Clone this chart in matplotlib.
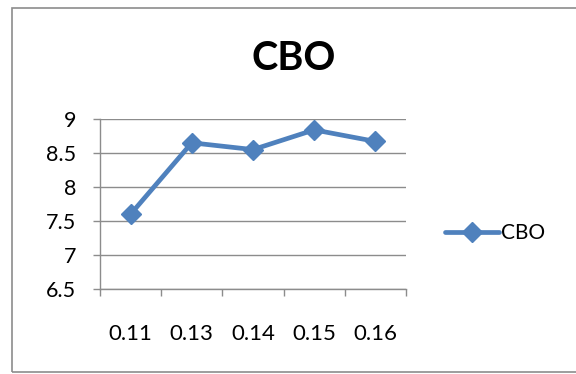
import matplotlib
matplotlib.use("Agg")
import matplotlib.pyplot as plt
from matplotlib.patches import Rectangle

plt.rcParams["font.family"] = ["Lato", "DejaVu Sans"]

categories = ["0.11", "0.13", "0.14", "0.15", "0.16"]
cbo = [7.60, 8.65, 8.55, 8.84, 8.67]
yticks = [6.5, 7, 7.5, 8, 8.5, 9]

BLUE = "#4F81BD"
GRID = "#8C8C8C"

fig = plt.figure(figsize=(5.76, 3.74), dpi=100)
# chart frame
fig.patches.append(Rectangle((12 / 576, 1 - 372 / 374), 0.99, 364 / 374,
                             transform=fig.transFigure, fill=False,
                             edgecolor="#8C8C8C", linewidth=1.2))

ax = fig.add_axes([100 / 576, 1 - 289 / 374, 306 / 576, 170 / 374])
x = list(range(len(categories)))
ax.plot(x, cbo, color=BLUE, linewidth=3.4, marker="D", markersize=10,
        label="CBO", solid_capstyle="round")

ax.set_xlim(-0.5, len(categories) - 0.5)
ax.set_ylim(6.5, 9)
ax.set_yticks(yticks)
ax.set_yticklabels(["6.5", "7", "7.5", "8", "8.5", "9"])
ax.set_xticks(x)
ax.set_xticklabels(categories)
ax.set_xticks([i - 0.5 for i in range(len(categories) + 1)], minor=True)
ax.tick_params(axis="x", which="major", length=0, pad=25, labelsize=16)
ax.tick_params(axis="x", which="minor", length=5, color=GRID, width=1)
ax.tick_params(axis="y", length=5, color=GRID, width=1, pad=12, labelsize=15.5)
ax.grid(axis="y", color=GRID, linewidth=1)
ax.set_axisbelow(True)
for s in ("top", "right"):
    ax.spines[s].set_visible(False)
for s in ("left", "bottom"):
    ax.spines[s].set_color(GRID)
    ax.spines[s].set_linewidth(1)

fig.text(294 / 576, 1 - 59 / 374, "CBO", ha="center", va="center",
         fontsize=28.5, fontweight="bold")

ax.legend(loc="center left", bbox_to_anchor=(1.1, 0.33), frameon=False,
          fontsize=15, handlelength=2.6, handletextpad=0.1,
          borderaxespad=0)

fig.savefig("out.png", dpi=100)
